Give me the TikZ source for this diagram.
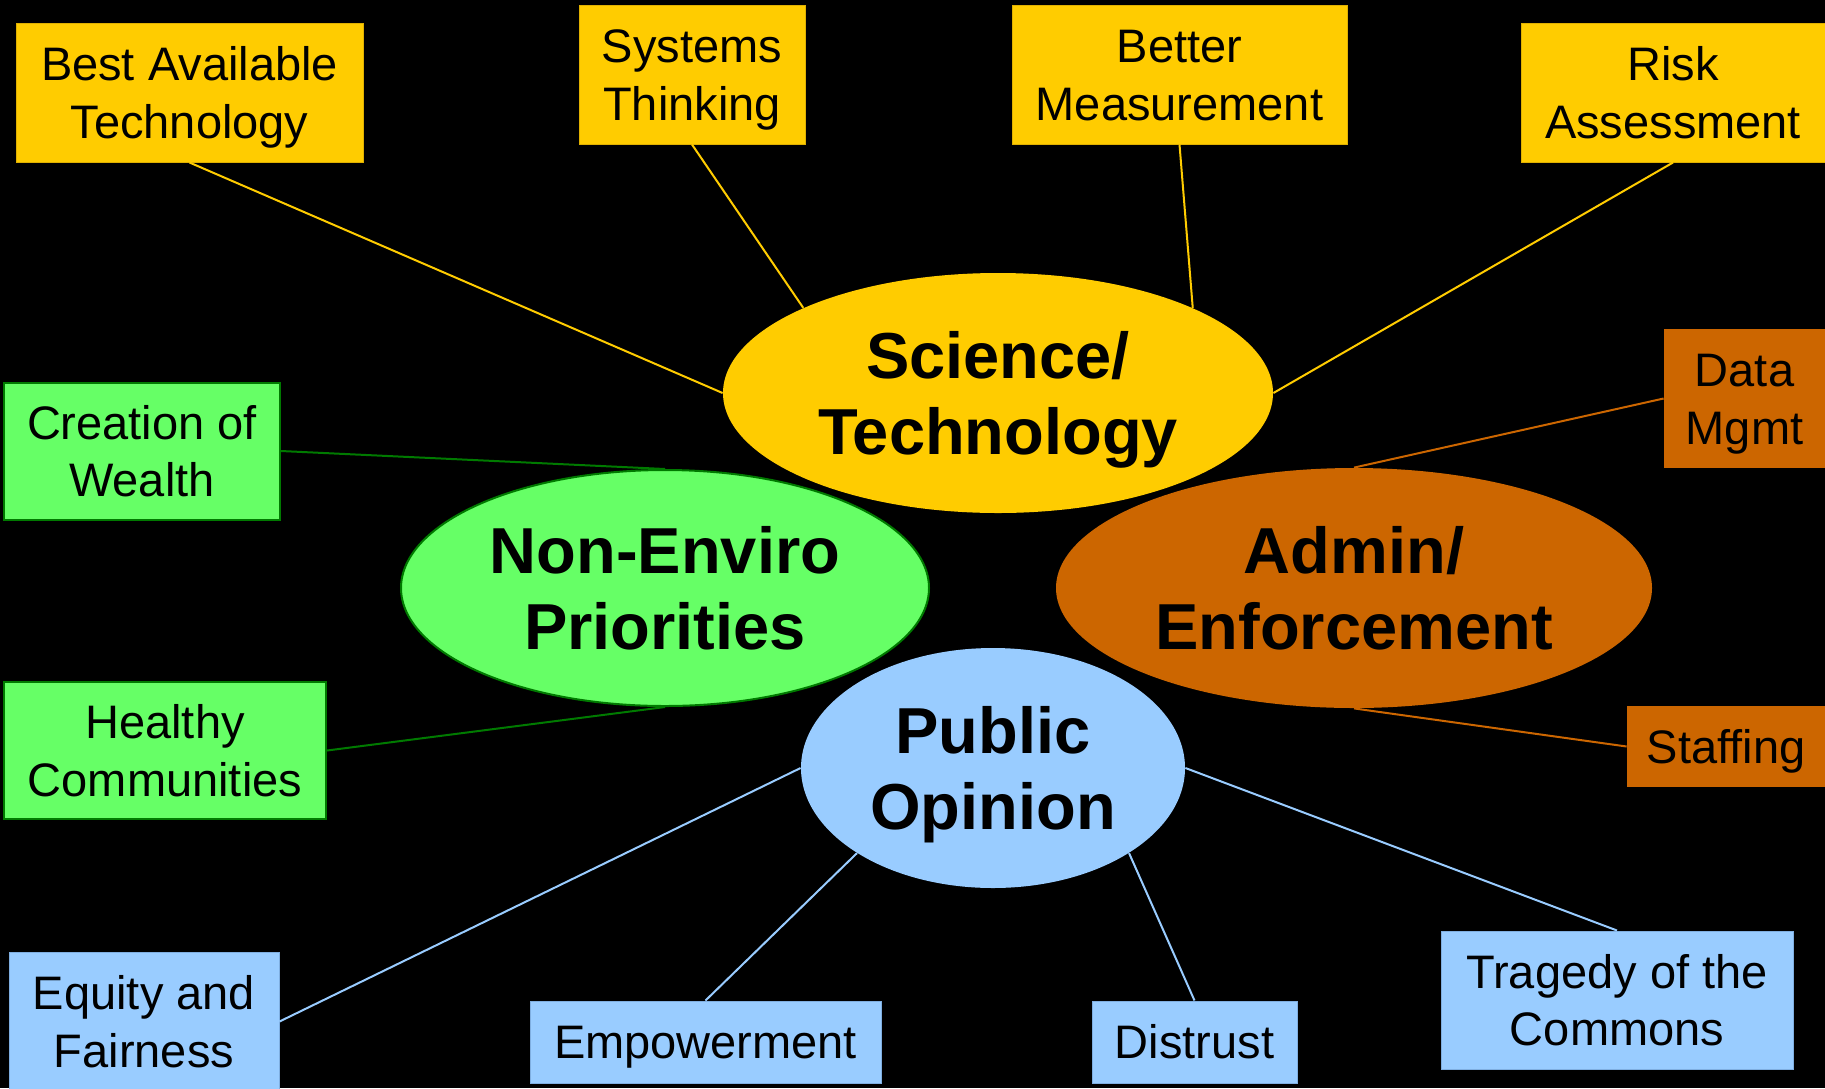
\documentclass[tikz,border=0pt]{standalone}
\usepackage{fontspec}
\setmainfont{Liberation Sans}
\usetikzlibrary{shapes.geometric}

\definecolor{sciyellow}{HTML}{FFCC00}
\definecolor{sciedge}{HTML}{E0B000}
\definecolor{envgreen}{HTML}{66FF66}
\definecolor{envdark}{HTML}{007A00}
\definecolor{admorange}{HTML}{CC6600}
\definecolor{publue}{HTML}{99CCFF}
\definecolor{pubedge}{HTML}{7FAEE0}

% fixed line heights, so text sits like in the slide
\newcommand{\hup}{\rule{0pt}{31pt}}
\newcommand{\hdn}{\rule[-7.7pt]{0pt}{7.7pt}}
\newcommand{\lup}{\rule{0pt}{23pt}}
\newcommand{\ldn}{\rule[-6.2pt]{0pt}{6.2pt}}

\begin{document}
\begin{tikzpicture}[x=0.5pt, y=-0.5pt,
    hub/.style={ellipse, inner sep=0pt, align=center,
      font=\fontsize{32.5}{38}\selectfont\bfseries},
    leaf/.style={rectangle, inner sep=0pt, align=center,
      font=\fontsize{23.5}{28.8}\selectfont},
    sciline/.style={draw=sciyellow, line width=1pt},
    envline/.style={draw=envdark, line width=1pt},
    admline/.style={draw=admorange, line width=1pt},
    publine/.style={draw=publue, line width=1pt}]

  \useasboundingbox (0,0) rectangle (1825,1088);
  \fill[black] (0,0) rectangle (1825,1088);

  % hubs
  \node[hub, fill=sciyellow, minimum width=275pt, minimum height=120pt]
    (sci) at (998,393) {\hup Science/\\Technology\hdn};
  \node[hub, fill=envgreen, draw=envdark, line width=1pt,
    minimum width=264pt, minimum height=118pt]
    (env) at (665,588) {\hup Non-Enviro\\Priorities\hdn};
  \node[hub, fill=admorange, minimum width=298pt, minimum height=120pt]
    (adm) at (1354,588) {\hup Admin/\\Enforcement\hdn};
  \node[hub, fill=publue, minimum width=192pt, minimum height=120pt]
    (pub) at (993,768) {\hup Public\\Opinion\hdn};

  % science / technology
  \begin{scope}[every node/.style={leaf, fill=sciyellow, draw=sciedge,
      line width=0.5pt, minimum height=69.5pt}]
    \node[minimum width=173.5pt] (bat) at (189.5,92.5) {\lup Best Available\\Technology\ldn};
    \node[minimum width=113pt] (sys) at (692,74.5) {\lup Systems\\Thinking\ldn};
    \node[minimum width=167.5pt] (bm) at (1179.5,74.5) {\lup Better\\Measurement\ldn};
    \node[minimum width=152pt] (risk) at (1673,92.5) {\lup Risk\\Assessment\ldn};
  \end{scope}
  \draw[sciline] (bat.south) -- (sci.west);
  \draw[sciline] (sys.south) -- (sci.north west);
  \draw[sciline] (bm.south) -- (sci.north east);
  \draw[sciline] (risk.south) -- (sci.east);

  % non-enviro priorities
  \begin{scope}[every node/.style={leaf, fill=envgreen, draw=envdark,
      line width=1pt, minimum height=68.5pt}]
    \node[minimum width=138pt] (cow) at (142,451) {\lup Creation of\\Wealth\ldn};
    \node[minimum width=161pt] (hc) at (165,750.5) {\lup Healthy\\Communities\ldn};
  \end{scope}
  \draw[envline] (cow.east) -- (env.north);
  \draw[envline] (hc.east) -- (env.south);

  % admin / enforcement
  \begin{scope}[every node/.style={leaf, fill=admorange}]
    \node[minimum width=80.5pt, minimum height=69.5pt] (dm) at (1744.5,398.5) {\lup Data\\Mgmt\ldn};
    \node[minimum width=99pt, minimum height=40.5pt] (staff) at (1726,746.5) {\lup Staffing\ldn};
  \end{scope}
  \draw[admline] (dm.west) -- (adm.north);
  \draw[admline] (staff.west) -- (adm.south);

  % public opinion
  \begin{scope}[every node/.style={leaf, fill=publue, draw=pubedge,
      line width=0.5pt}]
    \node[minimum width=135pt, minimum height=69.5pt] (eq) at (144,1021.5) {\lup Equity and\\Fairness\ldn};
    \node[minimum width=175.5pt, minimum height=41pt] (emp) at (705.5,1042) {\lup Empowerment\ldn};
    \node[minimum width=102.5pt, minimum height=41pt] (dis) at (1194.5,1042) {\lup Distrust\ldn};
    \node[minimum width=176pt, minimum height=69pt] (trag) at (1617,1000) {\lup Tragedy of the\\Commons\ldn};
  \end{scope}
  \draw[publine] (eq.east) -- (pub.west);
  \draw[publine] (emp.north) -- (pub.south west);
  \draw[publine] (dis.north) -- (pub.south east);
  \draw[publine] (trag.north) -- (pub.east);
\end{tikzpicture}
\end{document}
